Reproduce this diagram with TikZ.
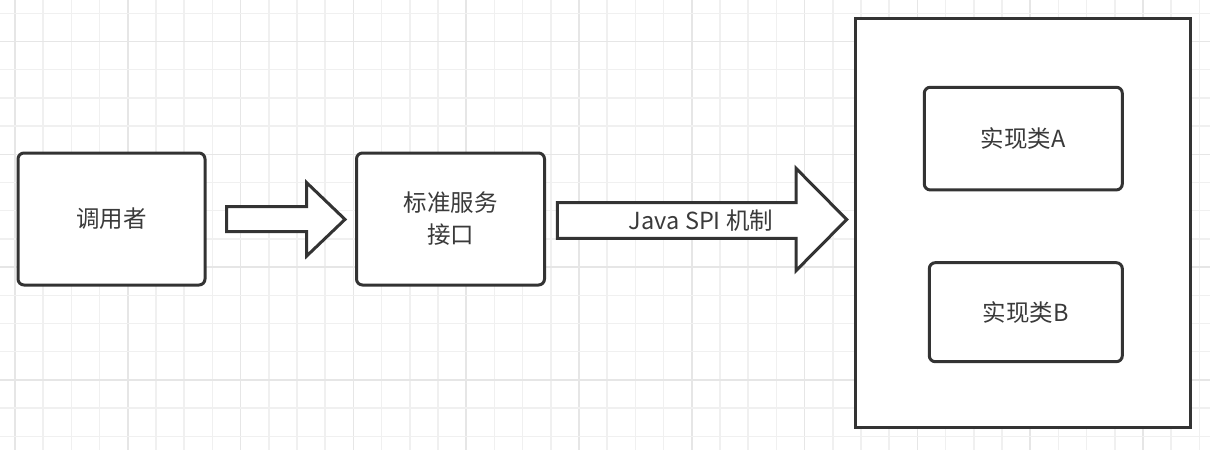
\documentclass[tikz,border=0pt]{standalone}
\usepackage{fontspec}
\setmainfont{Noto Sans CJK SC}
\begin{document}
\begin{tikzpicture}[x=1pt,y=-1pt,
  box/.style={draw=linec, line width=3pt, fill=white, rounded corners=6pt, inner sep=0pt, text=txtc, font=\fontsize{23.5}{32}\selectfont, align=center},
  outer/.style={draw=linec, line width=3pt, fill=white, inner sep=0pt},
  blockarrow/.style={draw=linec, line width=3pt, fill=white, line join=miter},
  lbl/.style={text=txtc, font=\fontsize{23.5}{28}\selectfont, inner sep=0pt}]
\definecolor{linec}{HTML}{333333}
\definecolor{txtc}{HTML}{3A3A3A}
\definecolor{gridc}{HTML}{F0F0F0}
\definecolor{gridm}{HTML}{E6E6E6}
\useasboundingbox (0,0) rectangle (1210,450);
\fill[white] (0,0) rectangle (1210,450);
% grid
\foreach \i in {0,...,43} {
  \pgfmathsetmacro{\xx}{15+28.2*\i}
  \pgfmathtruncatemacro{\m}{mod(\i,4)}
  \ifnum\m=0 \draw[gridm, line width=1.5pt] (\xx,0) -- (\xx,450); \else \draw[gridc, line width=1.5pt] (\xx,0) -- (\xx,450); \fi
}
\foreach \j in {0,...,15} {
  \pgfmathsetmacro{\yy}{13.3+28.2*\j}
  \pgfmathtruncatemacro{\m}{mod(\j+3,4)}
  \ifnum\m=0 \draw[gridm, line width=1.5pt] (0,\yy) -- (1210,\yy); \else \draw[gridc, line width=1.5pt] (0,\yy) -- (1210,\yy); \fi
}
% nodes
\node[box, minimum width=187pt, minimum height=132pt] (caller) at (111.5,219) {调用者};
\node[box, minimum width=188pt, minimum height=132pt] (iface) at (450.5,219) {标准服务\\接口};
\node[outer, minimum width=335.3pt, minimum height=409pt] (impl) at (1023.3,222.8) {};
\node[box, minimum width=198pt, minimum height=102.7pt] (A) at (1023.3,138.6) {实现类A};
\node[box, minimum width=193pt, minimum height=99pt] (B) at (1025.8,312.2) {实现类B};
% block arrows
\draw[blockarrow] (226.7,206.7) -- (306.7,206.7) -- (306.7,182.7) -- (345,219.4) -- (306.7,256) -- (306.7,231.7) -- (226.7,231.7) -- cycle;
\draw[blockarrow] (557.3,202.7) -- (796,202.7) -- (796,168.3) -- (846.7,219.5) -- (796,270.7) -- (796,238.3) -- (557.3,238.3) -- cycle;
\node[lbl] (spi) at (701,220.5) {Java SPI 机制};
\end{tikzpicture}
\end{document}
